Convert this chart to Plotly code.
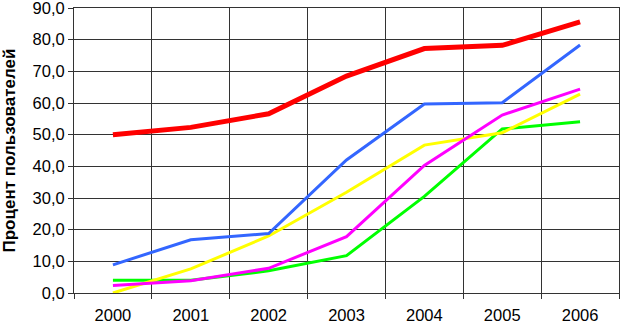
import plotly.graph_objects as go

years = ["2000", "2001", "2002", "2003", "2004", "2005", "2006"]
red = [50.0, 52.3, 56.6, 68.5, 77.2, 78.2, 85.6]
blue = [8.9, 16.8, 18.8, 42.0, 59.7, 60.1, 78.3]
magenta = [2.4, 3.9, 7.8, 17.8, 40.3, 56.2, 64.4]
yellow = [0.0, 7.6, 18.0, 31.8, 46.7, 50.6, 62.8]
green = [4.0, 4.0, 7.0, 11.8, 30.5, 51.8, 54.1]
y_ticks = [0, 10, 20, 30, 40, 50, 60, 70, 80, 90]

fig = go.Figure()
series = [
    (green, "#00ff00", 3),
    (yellow, "#ffff00", 3),
    (magenta, "#ff00ff", 3),
    (blue, "#3366ff", 3),
    (red, "#ff0000", 5),
]
for vals, col, w in series:
    fig.add_trace(go.Scatter(x=years, y=vals, mode="lines",
                             line=dict(color=col, width=w), showlegend=False))

fig.update_layout(
    width=621, height=323,
    margin=dict(l=74, r=2, t=8, b=30),
    paper_bgcolor="white", plot_bgcolor="white",
    separators=", ",
    font=dict(family="Liberation Sans, Arial, sans-serif", color="black", size=16.5),
)
fig.update_xaxes(
    type="category", tickson="boundaries", ticks="outside", ticklen=5,
    tickcolor="#333", showgrid=True, gridcolor="#333", gridwidth=1,
    showline=True, linecolor="#333", linewidth=1, mirror=True,
    tickfont=dict(size=16.5), range=[-0.5, 6.5], automargin=False,
    ticklabelstandoff=7,
)
fig.update_yaxes(
    range=[0, 90], tickvals=y_ticks, tickformat=".1f", ticks="outside", ticklen=5,
    tickcolor="#333", showgrid=True, gridcolor="#333", gridwidth=1,
    showline=True, linecolor="#333", linewidth=1, mirror=True,
    zeroline=False, tickfont=dict(size=16.5), automargin=False,
    ticklabeloverflow="allow",
    title=dict(text="<b>Процент пользователей</b>", font=dict(size=17), standoff=12),
)
fig.write_html("out.html", config={"displayModeBar": False},
               post_script="document.body.style.margin='0';")
